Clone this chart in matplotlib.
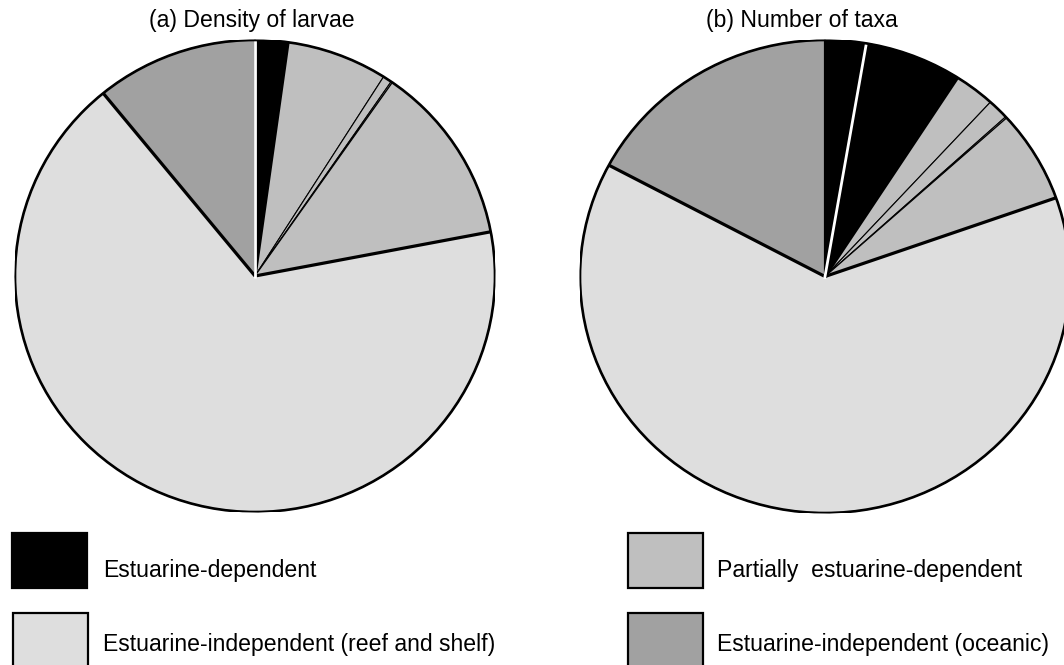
import matplotlib
matplotlib.use("Agg")
import matplotlib.pyplot as plt
from matplotlib.patches import Circle, Rectangle
import numpy as np

plt.rcParams['font.family'] = ['Liberation Sans', 'DejaVu Sans']

cat_names = ['Estuarine-dependent', 'Partially  estuarine-dependent',
             'Estuarine-independent (reef and shelf)',
             'Estuarine-independent (oceanic)']
cat_colors = ['#000000', '#bfbfbf', '#dedede', '#a1a1a1']

# (a) density of larvae, % of total, split into the taxa groups within each category
density_vals = [2.2, 6.8, 0.6, 0.1, 12.3, 67.1, 10.9]
density_cats = [0, 1, 1, 1, 1, 2, 3]
density_white = [0]

# (b) number of taxa, % of total
taxa_vals = [2.7, 6.4, 2.7, 1.4, 0.1, 6.3, 63.2, 17.2]
taxa_cats = [0, 0, 1, 1, 1, 1, 2, 3]
taxa_white = [1]

W, H = 1064, 665
fig = plt.figure(figsize=(W / 100, H / 100), dpi=100)


def px_axes(x0, y0, x1, y1):
    # pixel box (top-left origin) -> figure axes
    return fig.add_axes([x0 / W, 1 - y1 / H, (x1 - x0) / W, (y1 - y0) / H])


def draw_pie(ax, vals, cats, white):
    colors = [cat_colors[c] for c in cats]
    wedges, _ = ax.pie(vals, colors=colors, startangle=90, counterclock=False,
                       wedgeprops=dict(edgecolor='black', linewidth=0.8))
    ax.set_aspect('auto')
    ax.set_xlim(-1, 1)
    ax.set_ylim(-1, 1)
    for i, w in enumerate(wedges):
        a = np.deg2rad(w.theta2)  # leading edge going clockwise
        if cats[i] != cats[i - 1] and i not in white:
            ax.plot([0, np.cos(a)], [0, np.sin(a)], color='black', lw=2.3,
                    solid_capstyle='butt', zorder=3)
        if i in white:
            ax.plot([-0.01 * np.cos(a), np.cos(a)], [-0.01 * np.sin(a), np.sin(a)],
                    color='white', lw=2.0, solid_capstyle='butt', zorder=4)
    ax.add_patch(Circle((0, 0), 1, facecolor='none', edgecolor='black',
                        lw=1.9, zorder=5))


ax1 = px_axes(15, 40, 495, 512)
draw_pie(ax1, density_vals, density_cats, density_white)
ax2 = px_axes(580, 40, 1070, 513)
draw_pie(ax2, taxa_vals, taxa_cats, taxa_white)

fs = 16.6
fig.text(252 / W, 1 - 27 / H, '(a) Density of larvae', ha='center',
         va='baseline', fontsize=fs)
fig.text(802 / W, 1 - 27 / H, '(b) Number of taxa', ha='center',
         va='baseline', fontsize=fs)

# legend boxes
legend_pos = [(12, 533, 103, 577), (628, 533, 717, 577),
              (13, 613, 103, 651), (628, 613, 717, 651)]
for k, (bx, by, tx, ty) in enumerate(legend_pos):
    fig.add_artist(Rectangle((bx / W, 1 - (by + 55) / H), 75 / W, 55 / H,
                             transform=fig.transFigure,
                             facecolor=cat_colors[k], edgecolor='black',
                             lw=1.6))
    fig.text(tx / W, 1 - ty / H, cat_names[k], ha='left', va='baseline',
             fontsize=fs)

fig.savefig('out.png', dpi=100)
